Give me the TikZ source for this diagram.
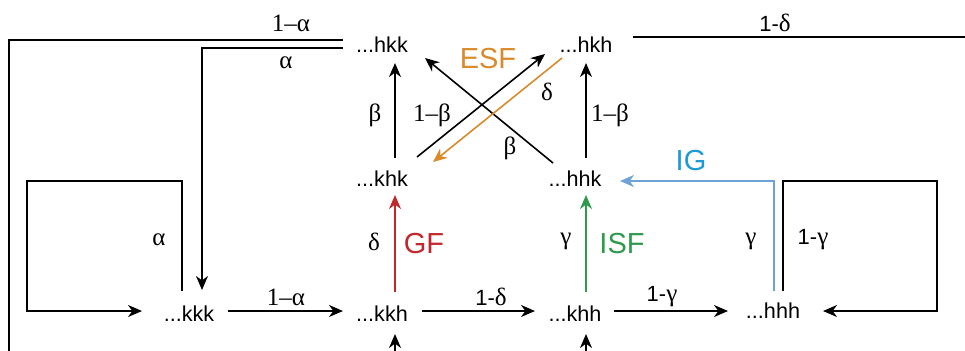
\documentclass[tikz,border=0pt]{standalone}
\usepackage{fontspec}
\setmainfont{Liberation Sans}
\newfontfamily\grk{Liberation Serif}
\usetikzlibrary{arrows.meta,calc}
\definecolor{esf}{HTML}{D98A2B}
\definecolor{gfc}{HTML}{C1272D}
\definecolor{isf}{HTML}{2E9A4E}
\definecolor{igt}{HTML}{1B9AD7}
\definecolor{igl}{HTML}{6FA3D8}
\begin{document}
\begin{tikzpicture}[x=0.5pt,y=-0.5pt,
  st/.style={font=\fontsize{10.8}{12}\selectfont, inner sep=0pt},
  lb/.style={font=\fontsize{12.5}{14}\selectfont\grk, inner sep=0pt},
  lbs/.style={font=\fontsize{11}{13}\selectfont, inner sep=0pt},
  big/.style={font=\fontsize{14.5}{16}\selectfont, inner sep=0pt},
  ln/.style={line width=0.8pt},
  ar/.style={ln, -{Stealth[length=7pt,width=6pt,inset=2.2pt]}}]
\clip (0,0) rectangle (965,350);
% states
\node[st] (hkk) at (382,45) {...hkk};
\node[st] (hkh) at (586,45) {...hkh};
\node[st] (khk) at (382,179) {...khk};
\node[st] (hhk) at (575,179) {...hhk};
\node[st] (kkk) at (189,314) {...kkk};
\node[st] (kkh) at (382,314) {...kkh};
\node[st] (khh) at (575,314) {...khh};
\node[st] (hhh) at (773,311) {...hhh};
% free-end coordinates
\coordinate (outL) at (9,40);
\coordinate (outB) at (9,370);
\coordinate (inL) at (202,48);
\coordinate (kl) at (27,181);
\coordinate (hl) at (937,181);
\coordinate (bl) at (774,181);
\coordinate (dR) at (975,37);
\coordinate (b1) at (395,370);
\coordinate (b2) at (586,370);
% upper arrows
\draw[ar] ($(khk)+(13,-21)$) -- ($(hkk)+(13,18)$);
\draw[ar] ($(hhk)+(11,-21)$) -- ($(hkh)+(0,18)$);
\draw[ar] ($(khk)+(35,-22)$) -- ($(hkh)+(-41,9)$);
\draw[ar] ($(hhk)+(-22,-16)$) -- ($(hkk)+(43,13)$);
\draw[ar,esf] ($(hkh)+(-24,13)$) -- ($(khk)+(51,-17)$);
% middle arrows
\draw[ar,gfc] ($(kkh)+(13,-22)$) -- ($(khk)+(13,16)$);
\draw[ar,isf] ($(khh)+(11,-22)$) -- ($(hhk)+(11,16)$);
\draw[ar,igl] ($(hhh)+(1,-20)$) |- (bl) -- ($(hhk)+(45,2)$);
% bottom row
\draw[ar] ($(kkk)+(39,-3)$) -- ($(kkh)+(-39,-3)$);
\draw[ar] ($(kkh)+(40,-3)$) -- ($(khh)+(-40,-3)$);
\draw[ar] ($(khh)+(39,-3)$) -- ($(hhh)+(-45,0)$);
\draw[ar] ($(kkk)+(-7,-23)$) |- (kl) |- ($(kkk)+(-47,-3)$);
\draw[ar] ($(hhh)+(10,-20)$) |- (hl) |- ($(hhh)+(50,0)$);
% long lines
\draw[ln] ($(hkk)+(-39,-5)$) -- (outL) -- (outB);
\draw[ar] ($(hkk)+(-39,3)$) -- (inL) -- ($(kkk)+(13,-24)$);
\draw[ln] ($(hkh)+(47,-8)$) -- (dR);
\draw[ar] (b1) -- ($(kkh)+(13,20)$);
\draw[ar] (b2) -- ($(khh)+(11,20)$);
% labels
\node[lb] (l1) at (291,23) {1–α};
\node[lb] (l2) at (286,63) {α};
\node[lb] (l3) at (159,240) {α};
\node[lb] (l4) at (286,297) {1–α};
\node[lbs] (l5) at (491,297) {1-{\grk\fontsize{12.5}{14}\selectfont δ}};
\node[lbs] (l6) at (662,297) {1-{\grk\fontsize{12.5}{14}\selectfont γ}};
\node[lb] (l7) at (374,242) {δ};
\node[big,gfc] (gf) at (424,244) {GF};
\node[lb] (l8) at (566,241) {γ};
\node[big,isf] (isfl) at (622,244) {ISF};
\node[lb] (l9) at (751,241) {γ};
\node[lbs] (l10) at (813,240) {1-{\grk\fontsize{12.5}{14}\selectfont γ}};
\node[big,igt] (ig) at (691,161) {IG};
\node[lb] (l11) at (375,115) {β};
\node[lb] (l12) at (432,115) {1–β};
\node[lb] (l13) at (510,148) {β};
\node[lb] (l14) at (547,92) {δ};
\node[big,esf] (esfl) at (488,59) {ESF};
\node[lb] (l15) at (610,115) {1–β};
\node[lbs] (l16) at (775,23) {1-{\grk\fontsize{12.5}{14}\selectfont δ}};
\end{tikzpicture}
\end{document}
